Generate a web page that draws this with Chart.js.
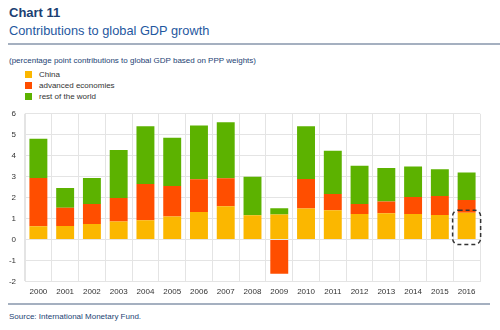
<!DOCTYPE html>
<html>
<head>
<meta charset="utf-8">
<script src="https://cdn.jsdelivr.net/npm/chart.js@4.4.1/dist/chart.umd.min.js"></script>
<style>
  body { margin:0; width:500px; height:330px; background:#fff; font-family:"Liberation Sans", Arial, sans-serif; position:relative; overflow:hidden; }
  .t1 { position:absolute; left:9px; top:5px; font-size:13px; font-weight:bold; color:#1c3f73; }
  .t2 { position:absolute; left:9px; top:23px; font-size:12.8px; color:#1f58a0; }
  .rule { position:absolute; left:8px; width:492px; height:2px; background:#a5b0c0; }
  .sub { position:absolute; left:9px; top:56px; font-size:8px; color:#1c3f73; }
  .leg { position:absolute; left:25px; font-size:8px; color:#333; }
  .leg span { display:inline-block; width:7px; height:7px; margin-right:7px; vertical-align:-1px; }
  .src { position:absolute; left:9px; top:312px; font-size:8px; color:#1c3f73; }
  #wrap { position:absolute; left:0; top:100px; width:500px; height:203px; }
</style>
</head>
<body>
<div class="t1">Chart 11</div>
<div class="t2">Contributions to global GDP growth</div>
<div class="rule" style="top:43px"></div>
<div class="sub">(percentage point contributions to global GDP based on PPP weights)</div>
<div class="leg" style="top:70px"><span style="background:#fbb700"></span>China</div>
<div class="leg" style="top:81px"><span style="background:#ff4e00"></span>advanced economies</div>
<div class="leg" style="top:92px"><span style="background:#5cb200"></span>rest of the world</div>
<div id="wrap"><canvas id="c"></canvas></div>
<div class="rule" style="top:303px; width:482px"></div>
<div class="src">Source: International Monetary Fund.</div>
<script>
const years = ['2000','2001','2002','2003','2004','2005','2006','2007','2008','2009','2010','2011','2012','2013','2014','2015','2016'];
const china = [0.63, 0.65, 0.74, 0.86, 0.92, 1.10, 1.31, 1.59, 1.16, 1.19, 1.48, 1.40, 1.22, 1.25, 1.22, 1.17, 1.28];
const advanced = [2.30, 0.87, 0.96, 1.12, 1.73, 1.45, 1.56, 1.33, 0.00, -1.64, 1.41, 0.77, 0.48, 0.56, 0.81, 0.91, 0.60];
const rest = [1.88, 0.94, 1.23, 2.29, 2.75, 2.31, 2.57, 2.68, 1.84, 0.30, 2.52, 2.07, 1.82, 1.60, 1.45, 1.27, 1.32];
const yTicks = { min:-2, max:6, step:1 };
const highlight = { index:16, top:1.4, bottom:-0.24 };

const boxPlugin = {
  id:'box',
  afterDatasetsDraw(chart){
    const x = chart.scales.x, y = chart.scales.y, ctx = chart.ctx;
    const cx = x.getPixelForValue(highlight.index);
    const w = 28, top = y.getPixelForValue(highlight.top), bot = y.getPixelForValue(highlight.bottom);
    ctx.save();
    ctx.strokeStyle = '#333';
    ctx.lineWidth = 1.5;
    ctx.setLineDash([4,3]);
    ctx.beginPath();
    ctx.roundRect(cx - w/2, top, w, bot - top, 6);
    ctx.stroke();
    ctx.restore();
  }
};

new Chart(document.getElementById('c'), {
  type:'bar',
  data:{ labels:years, datasets:[
    { label:'China', data:china, backgroundColor:'#fbb700' },
    { label:'advanced economies', data:advanced, backgroundColor:'#ff4e00' },
    { label:'rest of the world', data:rest, backgroundColor:'#5cb200' }
  ]},
  options:{
    responsive:true, maintainAspectRatio:false, animation:false,
    layout:{ padding:{ top:6, right:20, left:4, bottom:0 } },
    plugins:{ legend:{ display:false }, tooltip:{ enabled:false } },
    datasets:{ bar:{ categoryPercentage:1, barPercentage:0.67 } },
    scales:{
      x:{ stacked:true, grid:{ color:'#e4e4e4', drawTicks:false }, border:{ color:'#e4e4e4' },
          ticks:{ color:'#333', font:{ size:8, family:'Liberation Sans' }, padding:6, maxRotation:0, autoSkip:false } },
      y:{ stacked:true, min:yTicks.min, max:yTicks.max,
          grid:{ color:'#e4e4e4', drawTicks:false }, border:{ color:'#e4e4e4' },
          ticks:{ stepSize:yTicks.step, color:'#333', font:{ size:8, family:'Liberation Sans' }, padding:9 },
          afterFit(s){ s.width = 21; } }
    }
  },
  plugins:[boxPlugin]
});
</script>
</body>
</html>
